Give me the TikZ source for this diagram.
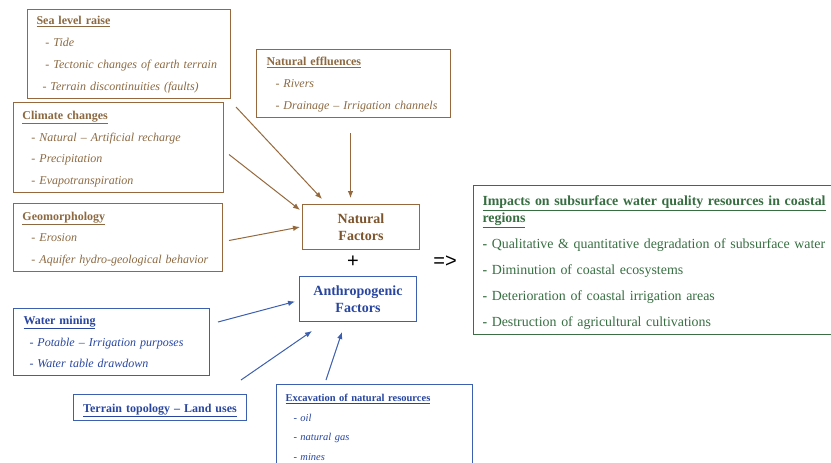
\documentclass[tikz,border=0pt]{standalone}
\usepackage{fontspec}
\setmainfont{Liberation Serif}
\newfontfamily\signfont{Liberation Sans}
\usetikzlibrary{arrows.meta}

\definecolor{brownline}{RGB}{150,105,60}
\definecolor{browntext}{RGB}{140,105,65}
\definecolor{browndark}{RGB}{125,85,45}
\definecolor{blueline}{RGB}{60,95,175}
\definecolor{bluetext}{RGB}{40,70,160}
\definecolor{greenline}{RGB}{60,110,70}
\definecolor{greentext}{RGB}{55,110,65}

\newcommand{\boxtitle}[1]{\textbf{\underline{#1}}}

\begin{document}
\begin{tikzpicture}[x=1pt, y=-1pt,
  brbox/.style={draw=brownline, line width=1pt, anchor=north west, align=left, inner xsep=9pt, text=browntext, font=\fontsize{12}{21.8}\selectfont},
  blbox/.style={draw=blueline, line width=1pt, anchor=north west, align=left, inner xsep=9pt, text=bluetext, font=\fontsize{12}{21.5}\selectfont},
  brarrow/.style={draw=brownline, line width=1pt, -{Latex[length=7pt,width=5.5pt]}},
  blarrow/.style={draw=blueline, line width=1pt, -{Latex[length=7pt,width=5.5pt]}}]

\useasboundingbox (0,0) rectangle (831,463);

% Natural factors (brown)
\node[brbox, text width=185pt, minimum height=89pt, font=\fontsize{12}{22}\selectfont] (sea) at (27,9) {\rule{0pt}{10.5pt}\boxtitle{Sea level raise}\\
  \hspace*{9pt}\textit{- Tide}\\
  \hspace*{9pt}\textit{- Tectonic changes of earth terrain}\\
  \hspace*{6pt}\textit{- Terrain discontinuities (faults)}};
\node[brbox, text width=192pt, minimum height=90pt] (climate) at (13,102) {\rule{0pt}{11.5pt}\boxtitle{Climate changes}\\
  \hspace*{9pt}\textit{- Natural} \textup{--} \textit{Artificial recharge}\\
  \hspace*{9pt}\textit{- Precipitation}\\
  \hspace*{9pt}\textit{- Evapotranspiration}};
\node[brbox, text width=191pt, minimum height=68pt] (geo) at (13,203) {\rule{0pt}{11.5pt}\boxtitle{Geomorphology}\\
  \hspace*{9pt}\textit{- Erosion}\\
  \hspace*{9pt}\textit{- Aquifer hydro-geological behavior}};
\node[brbox, inner xsep=10pt, text width=174pt, minimum height=68pt, font=\fontsize{12}{22}\selectfont] (effluence) at (256,49) {\rule{0pt}{10.5pt}\boxtitle{Natural effluences}\\
  \hspace*{9pt}\textit{- Rivers}\\
  \hspace*{9pt}\textit{- Drainage} \textup{--} \textit{Irrigation channels}};
\node[brbox, align=center, inner xsep=0pt, text width=117pt, minimum height=45pt, text=browndark, font=\bfseries\fontsize{14}{17}\selectfont] (natural) at (302,204) {Natural\\Factors};

% Plus and result sign
\node[font=\signfont\fontsize{20}{20}\selectfont] (plus) at (353,262) {+};
\node[font=\signfont\fontsize{20}{20}\selectfont] (implies) at (445,262) {=>};

% Anthropogenic factors (blue)
\node[blbox, align=center, inner xsep=0pt, text width=117pt, minimum height=45pt, font=\bfseries\fontsize{14}{17}\selectfont] (anthro) at (299,276) {Anthropogenic\\Factors};
\node[blbox, inner xsep=10pt, text width=176pt, minimum height=67pt] (mining) at (13,308) {\boxtitle{Water mining}\\
  \hspace*{6pt}\textit{- Potable} \textup{--} \textit{Irrigation purposes}\\
  \hspace*{6pt}\textit{- Water table drawdown}};
\node[blbox, align=center, inner xsep=0pt, text width=173pt, minimum height=25pt] (terrain) at (73,394) {\rule{0pt}{14.5pt}\boxtitle{Terrain topology -- Land uses}};
\node[blbox, text width=178pt, minimum height=86pt, font=\fontsize{10.5}{19.5}\selectfont] (excavation) at (276,384) {\boxtitle{Excavation of natural resources}\\
  \hspace*{8pt}\textit{- oil}\\
  \hspace*{8pt}\textit{- natural gas}\\
  \hspace*{8pt}\textit{- mines}};

% Impacts (green)
\node[draw=greenline, line width=1pt, anchor=north west, align=left, inner xsep=9pt, text=greentext, text width=382pt, minimum height=149pt, font=\fontsize{13.9}{26}\selectfont] (impacts) at (473,185) {\rule{0pt}{15pt}\boxtitle{Impacts on subsurface water quality resources in coastal}\\[-9.5pt]
  \boxtitle{regions}\\
  \textbf{-} Qualitative \& quantitative degradation of subsurface water\\
  \textbf{-} Diminution of coastal ecosystems\\
  \textbf{-} Deterioration of coastal irrigation areas\\
  \textbf{-} Destruction of agricultural cultivations};

% Arrows to natural factors
\draw[brarrow] ([shift={(5,8)}]sea.south east) -- ([shift={(20,-5)}]natural.north west);
\draw[brarrow] ([shift={(5,7)}]climate.east) -- ([shift={(-2,6)}]natural.north west);
\draw[brarrow] ([shift={(6,3)}]geo.east) -- ([shift={(-2,0)}]natural.west);
\draw[brarrow] ([shift={(-3,15)}]effluence.south) -- ([shift={(-10.5,-6)}]natural.north);

% Arrows to anthropogenic factors
\draw[blarrow] ([shift={(8,14)}]mining.north east) -- ([shift={(-4,2.5)}]anthro.west);
\draw[blarrow] ([shift={(-6,-14)}]terrain.north east) -- ([shift={(13,9)}]anthro.south west);
\draw[blarrow] ([shift={(50,-4)}]excavation.north west) -- ([shift={(43,10)}]anthro.south west);

\end{tikzpicture}
\end{document}
